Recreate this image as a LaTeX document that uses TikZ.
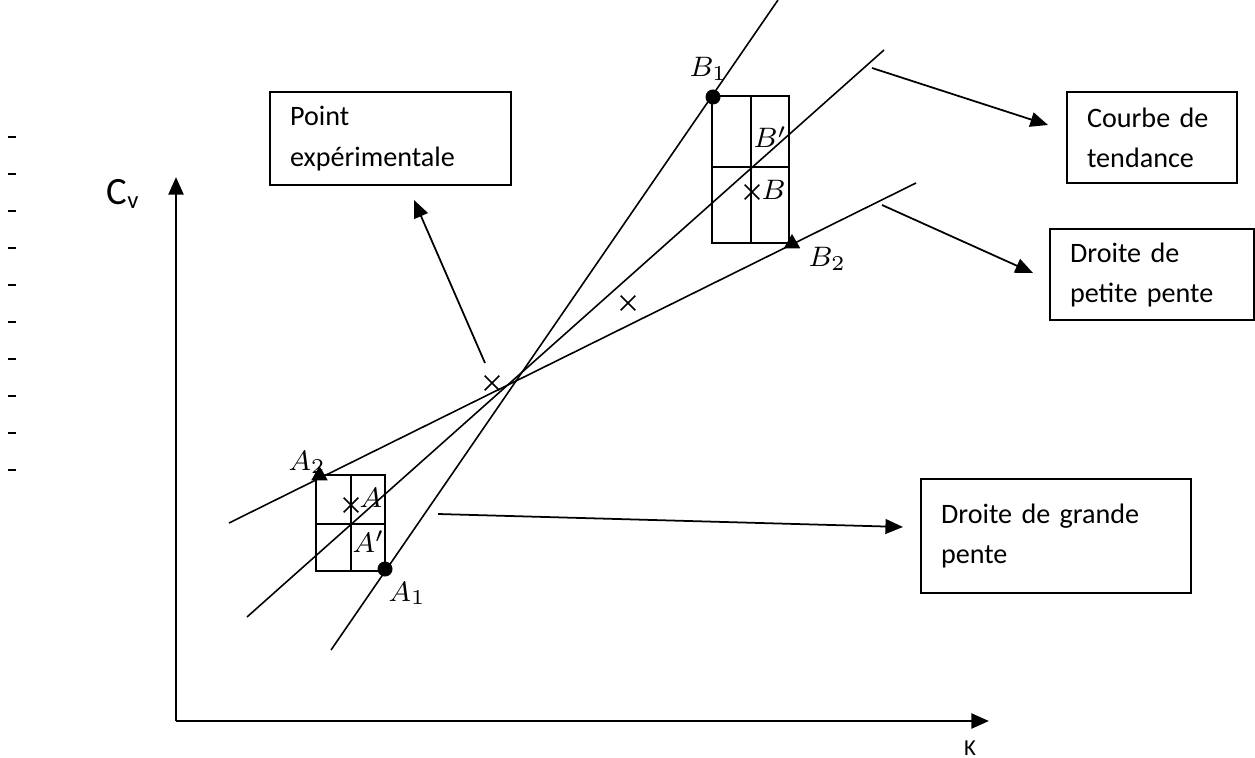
\documentclass[tikz,border=0pt]{standalone}
\usepackage{fontspec}
\setmainfont{Carlito}
\usetikzlibrary{arrows.meta}
\usetikzlibrary{shapes.geometric}
\usetikzlibrary{shapes.misc}
\usetikzlibrary{positioning}

\begin{document}
\begin{tikzpicture}[
        x=0.01cm, y=-0.01cm,
        font=\fontsize{8}{11.4}\selectfont,
        thinline/.style={line width=0.45pt},
        axisline/.style={line width=0.8pt,-{Triangle[length=5pt,width=4.2pt]}},
        pointer/.style={line width=0.5pt,-{Triangle[length=5pt,width=4.2pt]}},
        labelbox/.style={draw,line width=0.6pt,align=left,anchor=north west,inner xsep=0.2cm,inner ysep=0pt},
        dot/.style={circle,fill,inner sep=0,minimum size=1.5mm},
        tri/.style={regular polygon,regular polygon sides=3,fill,inner sep=0,minimum size=0.19cm},
        xmark/.style={cross out,draw,inner sep=0,minimum size=0.13cm,line width=0.45pt},
        ptlabel/.style={anchor=base west,inner sep=0}
        ]
        \useasboundingbox (0,0) rectangle (1255,758);
        % dashes on the left
        \foreach \y in {137,174,...,470}
          \draw[line width=0.8pt] (8,\y) -- (16,\y);
        % axes
        \coordinate (O) at (176,721);
        \coordinate (ytop) at (176,177);
        \coordinate (xend) at (989,721);
        \draw[axisline] (O) -- (ytop);
        \draw[axisline] (O) -- (xend);
        \node[anchor=base west,inner sep=0,font=\fontsize{11}{12}\selectfont] (cv) at (106,205)
          {C\raisebox{-1pt}{\fontsize{7}{7}\selectfont v}};
        \node[anchor=north,inner sep=0,font=\fontsize{6.5}{7}\selectfont] (k) at (970,740) {K};
        % error rectangles
        \draw[thinline] (316,475) rectangle (385,571);
        \draw[thinline] (351,475) -- (351,571);
        \draw[thinline] (316,524) -- (385,524);
        \draw[thinline] (712,96) rectangle (789,243);
        \draw[thinline] (751,96) -- (751,243);
        \draw[thinline] (712,167) -- (789,167);
        % lines
        \coordinate (gp1) at (331,650);
        \coordinate (gp2) at (778,0);
        \coordinate (ct1) at (247,617);
        \coordinate (ct2) at (884,50);
        \coordinate (pp1) at (229,523);
        \coordinate (pp2) at (916,183);
        \draw[thinline] (gp1) -- (gp2);
        \draw[thinline] (ct1) -- (ct2);
        \draw[thinline] (pp1) -- (pp2);
        % points
        \node[dot] (a1) at (385,569) {};
        \node[dot] (b1) at (713,97) {};
        \node[tri] (a2) at (319.5,475.5) {};
        \node[tri] (b2) at (792,243.5) {};
        \node[xmark] (ma) at (351,505) {};
        \node[xmark] (mb) at (752,192) {};
        \node[xmark] (m1) at (492,383) {};
        \node[xmark] (m2) at (628,303) {};
        \node[ptlabel] at (689,77) {$B_1$};
        \node[ptlabel] at (753,148) {$B'$};
        \node[ptlabel] at (761,200) {$B$};
        \node[ptlabel] at (808,267) {$B_2$};
        \node[ptlabel] at (288,470) {$A_2$};
        \node[ptlabel] at (359,507) {$A$};
        \node[ptlabel] at (352,552) {$A'$};
        \node[ptlabel] at (388,601) {$A_1$};
        % boxes
        \node[labelbox,text width=2.01cm,minimum height=0.93cm] (pointbox) at (269,91) {Point\\expérimentale};
        \node[labelbox,text width=1.30cm,minimum height=0.91cm] (courbebox) at (1066,91) {Courbe de\\tendance};
        \node[labelbox,text width=1.64cm,minimum height=0.91cm] (petitebox) at (1049,228) {Droite de\\petite pente};
        \node[labelbox,text width=2.30cm,minimum height=1.14cm] (grandebox) at (920,478) {Droite de grande\\pente};
        % pointers
        \coordinate (p1) at (485,363);
        \coordinate (p1e) at (414,200);
        \coordinate (p2) at (872,68);
        \coordinate (p2e) at (1048,125);
        \coordinate (p3) at (882,205);
        \coordinate (p3e) at (1033,273);
        \coordinate (p4) at (438,514);
        \coordinate (p4e) at (903,527);
        \draw[pointer] (p1) -- (p1e);
        \draw[pointer] (p2) -- (p2e);
        \draw[pointer] (p3) -- (p3e);
        \draw[pointer] (p4) -- (p4e);
\end{tikzpicture}
\end{document}
